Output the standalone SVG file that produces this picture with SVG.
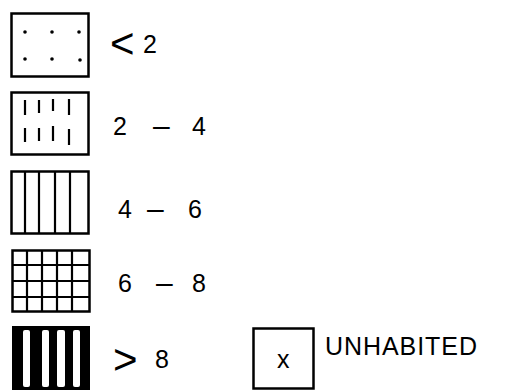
<svg xmlns="http://www.w3.org/2000/svg" width="511" height="391" viewBox="0 0 511 391">
<style>
.box{fill:#fff;stroke:#000;stroke-width:2.5}
.ln{stroke:#000;stroke-width:2.2;fill:none}
.t{font-family:"Liberation Sans",Arial,sans-serif;font-size:25px;fill:#000}
.sym{font-family:"Liberation Sans",Arial,sans-serif;font-size:42px;fill:#000}
.d{font-size:30px}
</style>
<rect width="511" height="391" fill="#fff"/>
<g id="lt2">
<rect class="box" x="11.5" y="13.5" width="77" height="63"/>
<g fill="#000">
<circle cx="25" cy="32" r="1.8"/><circle cx="52" cy="32" r="1.8"/><circle cx="79" cy="32" r="1.8"/>
<circle cx="25" cy="59" r="1.8"/><circle cx="52" cy="59" r="1.8"/><circle cx="80" cy="60" r="1.8"/>
</g>
<text class="sym" x="110" y="58">&lt;</text>
<text class="t" x="143" y="53">2</text>
</g>
<g id="r2to4">
<rect class="box" x="11.5" y="92.5" width="77" height="62"/>
<path class="ln" d="M25,100V115M39,100V113M53,99V111M69,99V115M25,128V142M39,128V141M53,126V141M69,129V145"/>
<text class="t" x="113" y="135">2</text>
<text class="t d" x="153" y="136">–</text>
<text class="t" x="192" y="135">4</text>
</g>
<g id="r4to6">
<rect class="box" x="11.5" y="171.5" width="77" height="62"/>
<path class="ln" d="M25,172V233M39,172V233M55,172V233M70,172V233"/>
<text class="t" x="118" y="218">4</text>
<text class="t d" x="147" y="219">–</text>
<text class="t" x="188" y="218">6</text>
</g>
<g id="r6to8">
<rect class="box" x="12.5" y="250.5" width="77" height="61" stroke-width="3"/>
<path class="ln" stroke-width="3" d="M27,251V311M42,251V311M57,251V311M72,251V311M13,265H89M13,281H89M13,297H89"/>
<text class="t" x="118" y="292">6</text>
<text class="t d" x="156" y="293">–</text>
<text class="t" x="192" y="292">8</text>
</g>
<g id="gt8">
<rect x="12" y="326" width="78" height="64" fill="#000"/>
<g fill="#fff">
<rect x="23" y="330" width="7" height="57" rx="2"/>
<rect x="42" y="330" width="7" height="57" rx="2"/>
<rect x="57" y="330" width="8" height="57" rx="2"/>
<rect x="73" y="330" width="7" height="57" rx="2"/>
</g>
<text class="sym" x="113" y="374">&gt;</text>
<text class="t" x="155" y="368">8</text>
</g>
<g id="unhabited">
<rect class="box" x="253.5" y="328.5" width="60" height="60" stroke-width="2"/>
<text class="t" x="277" y="368" font-size="22">x</text>
<text class="t" x="325" y="355" textLength="152" lengthAdjust="spacing">UNHABITED</text>
</g>
</svg>
